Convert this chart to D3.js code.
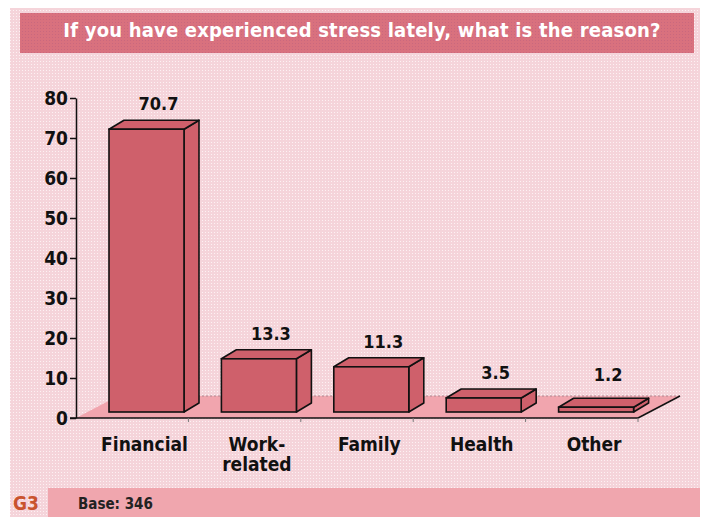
<!DOCTYPE html>
<html>
<head>
<meta charset="utf-8">
<script src="https://cdn.jsdelivr.net/npm/d3@7"></script>
<style>
  html, body { margin: 0; padding: 0; background: #ffffff; }
  svg { display: block; }
  text { font-family: "DejaVu Sans Condensed", "DejaVu Sans", sans-serif; font-weight: bold; }
</style>
</head>
<body>
<div id="chart"></div>
<script>
// ---- data ----
const title = "If you have experienced stress lately, what is the reason?";
const categories = ["Financial", "Work-related", "Family", "Health", "Other"];
const categoryLines = [["Financial"], ["Work-", "related"], ["Family"], ["Health"], ["Other"]];
const values = [70.7, 13.3, 11.3, 3.5, 1.2];
const yTicks = [0, 10, 20, 30, 40, 50, 60, 70, 80];
const footerTag = "G3";
const footerNote = "Base: 346";

// ---- layout ----
const W = 704, H = 517;
const svg = d3.select("#chart").append("svg").attr("width", W).attr("height", H);

const defs = svg.append("defs");
const pat = defs.append("pattern").attr("id", "dots").attr("width", 3).attr("height", 3)
  .attr("patternUnits", "userSpaceOnUse");
pat.append("rect").attr("width", 3).attr("height", 3).attr("fill", "#f5d4da");
pat.append("rect").attr("x", 1).attr("y", 1).attr("width", 1).attr("height", 1).attr("fill", "#fdf1f3");

const pat2 = defs.append("pattern").attr("id", "tdots").attr("width", 3).attr("height", 3)
  .attr("patternUnits", "userSpaceOnUse");
pat2.append("rect").attr("width", 3).attr("height", 3).attr("fill", "#d9717e");
pat2.append("rect").attr("x", 1).attr("y", 1).attr("width", 1).attr("height", 1).attr("fill", "#c9687e");

// panel background
svg.append("rect").attr("x", 10).attr("y", 8).attr("width", 690).attr("height", 509).attr("fill", "url(#dots)");

// title bar
svg.append("rect").attr("x", 20).attr("y", 13).attr("width", 674).attr("height", 40).attr("fill", "url(#tdots)");
svg.append("text").attr("x", 362).attr("y", 37).attr("text-anchor", "middle")
  .attr("fill", "#ffffff").attr("font-size", 20).attr("letter-spacing", 0.2).text(title);

// scales
const x = d3.scaleBand().domain(categories).range([76, 638]).padding(0);
const y = d3.scaleLinear().domain([0, 80]).range([418, 98]);

const floorDx = 42, floorDy = -22;
const barOffX = 33, barW = 75, barLift = 6;
const depthDx = 15, depthDy = -9;

// floor
const x0 = x.range()[0], x1 = x.range()[1], y0 = y(0);
svg.append("polygon")
  .attr("points", [[x0, y0], [x1, y0], [x1 + floorDx, y0 + floorDy], [x0 + floorDx, y0 + floorDy]].map(p => p.join(",")).join(" "))
  .attr("fill", "#f1a5ae");
svg.append("line").attr("x1", x0 + floorDx).attr("y1", y0 + floorDy).attr("x2", x1 + floorDx).attr("y2", y0 + floorDy)
  .attr("stroke", "#b08890").attr("stroke-width", 1).attr("stroke-dasharray", "2,2");
svg.append("line").attr("x1", x1).attr("y1", y0).attr("x2", x1 + floorDx).attr("y2", y0 + floorDy)
  .attr("stroke", "#111").attr("stroke-width", 1.5);

// bars
const barColor = "#cf606b";
const bars = svg.append("g").selectAll("g").data(categories).join("g");
bars.each(function (c, i) {
  const g = d3.select(this);
  const fx = x(c) + barOffX, fx2 = fx + barW;
  const fb = y(0) - barLift, ft = y(values[i]) - barLift;
  const pts = a => a.map(p => p.join(",")).join(" ");
  // side
  g.append("polygon").attr("points", pts([[fx2, ft], [fx2 + depthDx, ft + depthDy], [fx2 + depthDx, fb + depthDy], [fx2, fb]]))
    .attr("fill", barColor).attr("stroke", "#111").attr("stroke-width", 1.6).attr("stroke-linejoin", "round");
  // top
  g.append("polygon").attr("points", pts([[fx, ft], [fx + depthDx, ft + depthDy], [fx2 + depthDx, ft + depthDy], [fx2, ft]]))
    .attr("fill", barColor).attr("stroke", "#111").attr("stroke-width", 1.6).attr("stroke-linejoin", "round");
  // front
  g.append("rect").attr("x", fx).attr("y", ft).attr("width", barW).attr("height", fb - ft)
    .attr("fill", barColor).attr("stroke", "#111").attr("stroke-width", 1.6);
  // value label
  g.append("text").attr("x", fx + barW / 2 + 12).attr("y", Math.min(ft + depthDy - 10, 381))
    .attr("text-anchor", "middle").attr("font-size", 18).attr("fill", "#111")
    .text(values[i].toFixed(1));
});

// y axis
const yAxis = d3.axisLeft(y).tickValues(yTicks).tickSize(6).tickSizeOuter(0).tickPadding(2);
const ga = svg.append("g").attr("transform", `translate(${x0},0)`).call(yAxis);
ga.select(".domain").attr("stroke", "#111").attr("stroke-width", 1.5);
ga.selectAll(".tick line").attr("stroke", "#111").attr("stroke-width", 1.5);
ga.selectAll(".tick text").attr("font-size", 19).attr("fill", "#111")
  .style("font-family", '"DejaVu Sans Condensed", "DejaVu Sans", sans-serif').style("font-weight", "bold");

// x axis line + ticks
svg.append("line").attr("x1", x0 - 6).attr("y1", y0).attr("x2", x1).attr("y2", y0)
  .attr("stroke", "#111").attr("stroke-width", 1.5);
svg.append("g").selectAll("line").data(categories).join("line")
  .attr("x1", c => x(c) + x.bandwidth()).attr("x2", c => x(c) + x.bandwidth())
  .attr("y1", y0).attr("y2", y0 + 4).attr("stroke", "#777").attr("stroke-width", 1);

// category labels
const lab = svg.append("g").selectAll("text").data(categories).join("text")
  .attr("text-anchor", "middle").attr("font-size", 19).attr("fill", "#111")
  .attr("x", c => x(c) + barOffX + barW / 2 - 2).attr("y", 451);
lab.each(function (c, i) {
  const t = d3.select(this);
  categoryLines[i].forEach((ln, k) => {
    t.append("tspan").attr("x", x(c) + barOffX + barW / 2 - 2).attr("dy", k === 0 ? 0 : 20).text(ln);
  });
});

// footer
svg.append("rect").attr("x", 48).attr("y", 488).attr("width", 652).attr("height", 29).attr("fill", "#f0a6ae");
svg.append("text").attr("x", 13).attr("y", 510).attr("font-size", 19).attr("fill", "#c9532e").text(footerTag);
svg.append("text").attr("x", 78).attr("y", 509).attr("font-size", 15).attr("fill", "#222").text(footerNote);
</script>
</body>
</html>
